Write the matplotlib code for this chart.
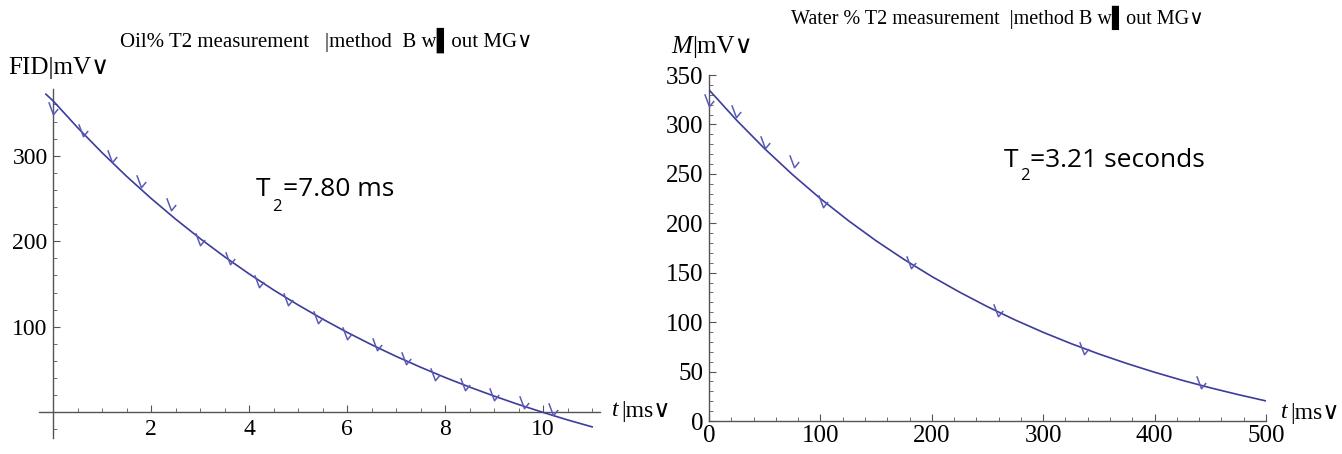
import matplotlib
matplotlib.use("Agg")
import matplotlib.pyplot as plt
from matplotlib.path import Path
from matplotlib.ticker import MultipleLocator
import numpy as np

# --- oil, left panel (t in ms, FID in mV)
oil_t = [0, 0.6, 1.2, 1.8, 2.4, 3.0, 3.6, 4.2, 4.8, 5.4, 6.0, 6.6, 7.2, 7.8, 8.4, 9.0, 9.6, 10.2]
oil_fid = [356, 330, 300, 271, 243, 203, 181, 153, 133, 112, 93, 80, 63, 45, 33, 22, 12, 4]
oil_fit_t = [-0.15, 0, 0.5, 1, 1.5, 2, 2.5, 3, 3.5, 4, 4.5, 5, 5.5, 6, 6.5, 7, 7.5, 8, 8.5, 9, 9.5, 10, 10.5, 11]
oil_fit = [372, 364, 332.7, 303.4, 275.8, 250, 225.8, 203.1, 181.8, 161.8, 143, 125.5, 109, 93.5, 79,
           65.4, 52.7, 40.7, 29.5, 19, 9.1, -0.1, -8.9, -17]

# --- water, right panel
water_t = [0, 24, 50, 76, 102, 181, 259, 337, 442]
water_m = [325, 314, 282, 263, 223, 161, 112, 74, 39]
water_fit_t = [0, 25, 50, 75, 100, 125, 150, 175, 200, 225, 250, 275, 300, 325, 350, 375, 400, 425, 450, 475, 500]
water_fit = [335, 304, 275.4, 249.2, 225, 202.8, 182.3, 163.5, 146.2, 130.3, 115.6, 102.1, 89.7, 78.3,
             67.8, 58.2, 49.3, 41.1, 33.6, 26.7, 20.3]

W, H = 1342, 454
fig = plt.figure(figsize=(W / 100, H / 100), dpi=100)

line_c = "#3c3c9c"
mark_c = "#5a5ab8"
axis_c = "#555555"
serif = ["Liberation Serif", "DejaVu Sans"]
sans = "Open Sans"

# hook-like marker glyph seen in the picture
hook = Path([(-0.45, 0.6), (0.0, -0.6), (0.45, -0.05)], [Path.MOVETO, Path.LINETO, Path.LINETO])


def px_axes(x0, y0, x1, y1):
    # axes box given in pixel coords (top-left origin)
    return fig.add_axes([x0 / W, 1 - y1 / H, (x1 - x0) / W, (y1 - y0) / H])


def ftext(x, y, s, **kw):
    fig.text(x / W, 1 - y / H, s, **kw)


def style(ax, size):
    for s in ["top", "right"]:
        ax.spines[s].set_visible(False)
    for s in ["left", "bottom"]:
        ax.spines[s].set_color(axis_c)
        ax.spines[s].set_linewidth(1.0)
    ax.tick_params(which="both", direction="in", color=axis_c, labelsize=size)
    ax.tick_params(which="major", length=5)
    ax.tick_params(which="minor", length=3)
    for lb in ax.get_xticklabels() + ax.get_yticklabels():
        lb.set_fontfamily(serif)
    ax.patch.set_alpha(0)


# ---------------- left: oil
ax1 = px_axes(39, 89, 600, 438)
ax1.plot(oil_fit_t, oil_fit, color=line_c, lw=1.2, zorder=3)
ax1.plot(oil_t, oil_fid, ls="none", marker=hook, ms=9, mec=mark_c, mfc="none", mew=1.1, zorder=4)
ax1.set_xlim(-0.29, 11.16)
ax1.set_ylim(-30, 378)
ax1.spines["left"].set_position(("data", 0))
ax1.spines["bottom"].set_position(("data", 0))
ax1.set_xticks([2, 4, 6, 8, 10])
ax1.set_yticks([100, 200, 300])
ax1.xaxis.set_minor_locator(MultipleLocator(0.5))
ax1.yaxis.set_minor_locator(MultipleLocator(20))
style(ax1, 17)
ax1.tick_params(axis="x", pad=5)
ax1.tick_params(axis="y", pad=4)

ftext(326, 40, "Oil% T2 measurement   |method  B w\u258Cout MG\u2228", family=serif, fontsize=15,
      ha="center", va="center")
ftext(8, 68, "FID|mV\u2228", family=serif, fontsize=18, ha="left", va="center")
ftext(612, 411, "t", family=serif, fontstyle="italic", fontsize=17, ha="left", va="center")
ftext(621, 411, "|ms\u2228", family=serif, fontsize=17, ha="left", va="center")
ftext(256, 190, "T", family=sans, fontsize=19, ha="left", va="center")
ftext(272, 207, "2", family=sans, fontsize=12, ha="left", va="center")
ftext(283, 190, "=7.80 ms", family=sans, fontsize=19, ha="left", va="center")

# ---------------- right: water
ax2 = px_axes(709, 75, 1266, 421)
ax2.plot(water_fit_t, water_fit, color=line_c, lw=1.2, zorder=3)
ax2.plot(water_t, water_m, ls="none", marker=hook, ms=9, mec=mark_c, mfc="none", mew=1.1, zorder=4,
         clip_on=False)
ax2.set_xlim(0, 500)
ax2.set_ylim(0, 350)
ax2.set_xticks(np.arange(0, 501, 100))
ax2.set_yticks(np.arange(0, 351, 50))
ax2.xaxis.set_minor_locator(MultipleLocator(20))
ax2.yaxis.set_minor_locator(MultipleLocator(10))
style(ax2, 18)
ax2.tick_params(axis="x", pad=3)
ax2.tick_params(axis="y", pad=4)

ftext(997, 18, "Water % T2 measurement  |method B w\u258Cout MG\u2228", family=serif, fontsize=14.5,
      ha="center", va="center")
ftext(671, 47, "M", family=serif, fontstyle="italic", fontsize=18, ha="left", va="center")
ftext(692, 47, "|mV\u2228", family=serif, fontsize=18, ha="left", va="center")
ftext(1281, 413, "t", family=serif, fontstyle="italic", fontsize=17, ha="left", va="center")
ftext(1290, 413, "|ms\u2228", family=serif, fontsize=17, ha="left", va="center")
ftext(1004, 160, "T", family=sans, fontsize=19, ha="left", va="center")
ftext(1020, 176, "2", family=sans, fontsize=12, ha="left", va="center")
ftext(1030, 160, "=3.21 seconds", family=sans, fontsize=19, ha="left", va="center")

fig.savefig("out.png", dpi=100)
